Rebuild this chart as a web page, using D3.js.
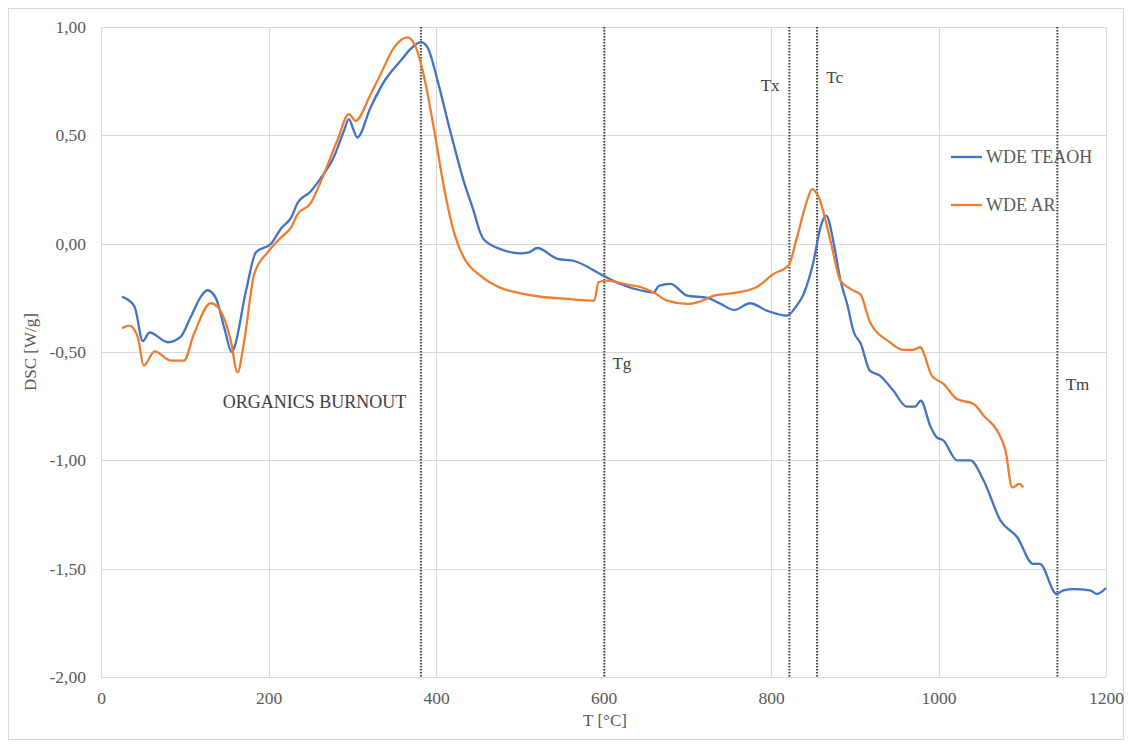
<!DOCTYPE html>
<html>
<head>
<meta charset="utf-8">
<script src="https://cdn.jsdelivr.net/npm/d3@7"></script>
<style>
  html, body { margin: 0; padding: 0; background: #fff; }
  svg text { font-family: "Liberation Serif", "DejaVu Serif", serif; fill: #595959; }
</style>
</head>
<body>
<svg id="chart" width="1132" height="748"></svg>
<script>
// DSC curves, temperature in °C and heat flow in W/g
const teaohT = [25, 28, 40, 50, 58, 80, 95, 107, 120, 127, 137, 148, 156, 159, 173, 185, 203, 215, 227, 235, 250, 262, 278, 290, 296, 301, 306, 322, 340, 350, 358, 370, 382, 390, 402, 417, 433, 445, 453, 457, 477, 501, 511, 521, 545, 565, 600, 620, 644, 660, 666, 680, 700, 724, 740, 756, 775, 795, 819, 830, 839, 851, 859, 866, 875, 883, 891, 899, 907, 918, 930, 946, 962, 972, 979, 990, 998, 1006, 1022, 1038, 1054, 1074, 1094, 1113, 1121, 1141, 1149, 1161, 1181, 1189, 1200];
const teaohDSC = [-0.245, -0.25, -0.29, -0.45, -0.41, -0.455, -0.43, -0.34, -0.24, -0.215, -0.25, -0.40, -0.50, -0.48, -0.22, -0.04, 0.0, 0.07, 0.12, 0.19, 0.24, 0.30, 0.40, 0.52, 0.575, 0.53, 0.49, 0.63, 0.76, 0.81, 0.845, 0.90, 0.93, 0.905, 0.75, 0.52, 0.29, 0.15, 0.05, 0.02, -0.025, -0.045, -0.04, -0.02, -0.07, -0.08, -0.148, -0.186, -0.215, -0.225, -0.195, -0.186, -0.24, -0.25, -0.278, -0.306, -0.275, -0.309, -0.332, -0.29, -0.232, -0.078, 0.075, 0.129, 0.0, -0.17, -0.28, -0.41, -0.46, -0.586, -0.609, -0.678, -0.752, -0.752, -0.725, -0.84, -0.894, -0.909, -1.0, -1.0, -1.094, -1.278, -1.355, -1.478, -1.478, -1.617, -1.60, -1.594, -1.60, -1.617, -1.589];

const arT = [25, 34, 44, 51, 64, 84, 99, 111, 131, 141, 155, 163, 171, 183, 199, 215, 227, 235, 250, 266, 282, 296, 304, 322, 334, 350, 366, 376, 386, 398, 410, 422, 433, 453, 477, 501, 525, 557, 589, 594, 604, 628, 644, 660, 676, 700, 716, 732, 760, 783, 803, 821, 831, 843, 849, 857, 871, 883, 899, 907, 918, 942, 958, 970, 978, 992, 1006, 1022, 1042, 1054, 1070, 1080, 1088, 1097, 1101];
const arDSC = [-0.39, -0.378, -0.432, -0.563, -0.497, -0.54, -0.54, -0.417, -0.275, -0.30, -0.448, -0.594, -0.448, -0.14, -0.04, 0.029, 0.075, 0.137, 0.185, 0.32, 0.475, 0.598, 0.567, 0.69, 0.783, 0.906, 0.952, 0.906, 0.767, 0.52, 0.25, 0.045, -0.063, -0.148, -0.204, -0.229, -0.245, -0.255, -0.263, -0.178, -0.171, -0.189, -0.2, -0.225, -0.263, -0.278, -0.266, -0.24, -0.225, -0.2, -0.14, -0.10, 0.029, 0.198, 0.252, 0.214, 0.014, -0.171, -0.217, -0.235, -0.36, -0.455, -0.49, -0.49, -0.478, -0.609, -0.647, -0.717, -0.74, -0.794, -0.863, -0.955, -1.125, -1.109, -1.125];

const seriesNames = ["WDE TEAOH", "WDE AR"];
const seriesColors = ["#4472C4", "#ED7D31"];

const xTicks = [0, 200, 400, 600, 800, 1000, 1200];
const yTicks = [1, 0.5, 0, -0.5, -1, -1.5, -2];

// Characteristic temperatures (dotted markers) and their labels
const markerT = [382, 601, 822, 855, 1142];
const labelNames = ["ORGANICS BURNOUT", "Tg", "Tx", "Tc", "Tm"];
const labelT = [255, 622, 799, 876, 1166];
const labelDSC = [-0.757, -0.577, 0.706, 0.743, -0.674];

const svg = d3.select("#chart");
const plotL = 101, plotR = 1106, plotT = 27, plotB = 677;

const x = d3.scaleLinear().domain([0, 1200]).range([plotL, plotR]);
const y = d3.scaleLinear().domain([-2, 1]).range([plotB, plotT]);

// outer frame
svg.append("rect").attr("x", 8.5).attr("y", 8.5).attr("width", 1115).attr("height", 731)
  .attr("fill", "none").attr("stroke", "#d9d9d9").attr("stroke-width", 1);

// grid
const grid = svg.append("g").attr("stroke", "#d9d9d9").attr("stroke-width", 1);
grid.selectAll("line.h").data(yTicks).join("line").attr("class", "h")
  .attr("x1", plotL).attr("x2", plotR)
  .attr("y1", d => Math.round(y(d)) + 0.5).attr("y2", d => Math.round(y(d)) + 0.5);
grid.selectAll("line.v").data(xTicks).join("line").attr("class", "v")
  .attr("y1", plotT).attr("y2", plotB)
  .attr("x1", d => Math.round(x(d)) + 0.5).attr("x2", d => Math.round(x(d)) + 0.5);

// axes (labels only, no tick marks)
const fmt = d => d3.format(".2f")(d).replace(".", ",").replace("−", "-");
const yAxis = svg.append("g").attr("transform", `translate(${plotL},0)`)
  .call(d3.axisLeft(y).tickValues(yTicks).tickSize(0).tickPadding(15).tickFormat(fmt));
const xAxis = svg.append("g").attr("transform", `translate(0,${plotB})`)
  .call(d3.axisBottom(x).tickValues(xTicks).tickSize(0).tickPadding(15).tickFormat(d3.format("d")));
[yAxis, xAxis].forEach(a => {
  a.select(".domain").remove();
  a.selectAll("text").attr("font-size", 17.5).attr("fill", "#595959");
});

// dotted markers
svg.append("g").selectAll("line").data(markerT).join("line")
  .attr("x1", d => x(d)).attr("x2", d => x(d)).attr("y1", plotT).attr("y2", plotB)
  .attr("stroke", "#404040").attr("stroke-width", 2).attr("stroke-dasharray", "1.5,1.5");

// curves
const line = d3.line().x(d => x(d[0])).y(d => y(d[1])).curve(d3.curveMonotoneX);
const series = [d3.zip(teaohT, teaohDSC), d3.zip(arT, arDSC)];
svg.append("g").selectAll("path").data(series).join("path")
  .attr("d", line).attr("fill", "none")
  .attr("stroke", (d, i) => seriesColors[i]).attr("stroke-width", 2.3)
  .attr("stroke-linejoin", "round");

// annotations
svg.append("g").selectAll("text").data(labelNames).join("text")
  .attr("x", (d, i) => x(labelT[i])).attr("y", (d, i) => y(labelDSC[i]))
  .attr("text-anchor", "middle").attr("font-size", (d, i) => i === 0 ? 18 : 17)
  .style("fill", "#404040")
  .text(d => d);

// legend
const legend = svg.append("g");
seriesNames.forEach((n, i) => {
  const ly = 157 + i * 48;
  legend.append("line").attr("x1", 951).attr("x2", 982).attr("y1", ly).attr("y2", ly)
    .attr("stroke", seriesColors[i]).attr("stroke-width", 2.3);
  legend.append("text").attr("x", 986).attr("y", ly + 6).attr("font-size", 18)
    .text(n);
});

// axis titles
svg.append("text").attr("x", 605).attr("y", 726).attr("text-anchor", "middle")
  .attr("font-size", 17).text("T [°C]");
svg.append("text").attr("transform", "translate(36,352) rotate(-90)")
  .attr("text-anchor", "middle").attr("font-size", 17).text("DSC [W/g]");
</script>
</body>
</html>
